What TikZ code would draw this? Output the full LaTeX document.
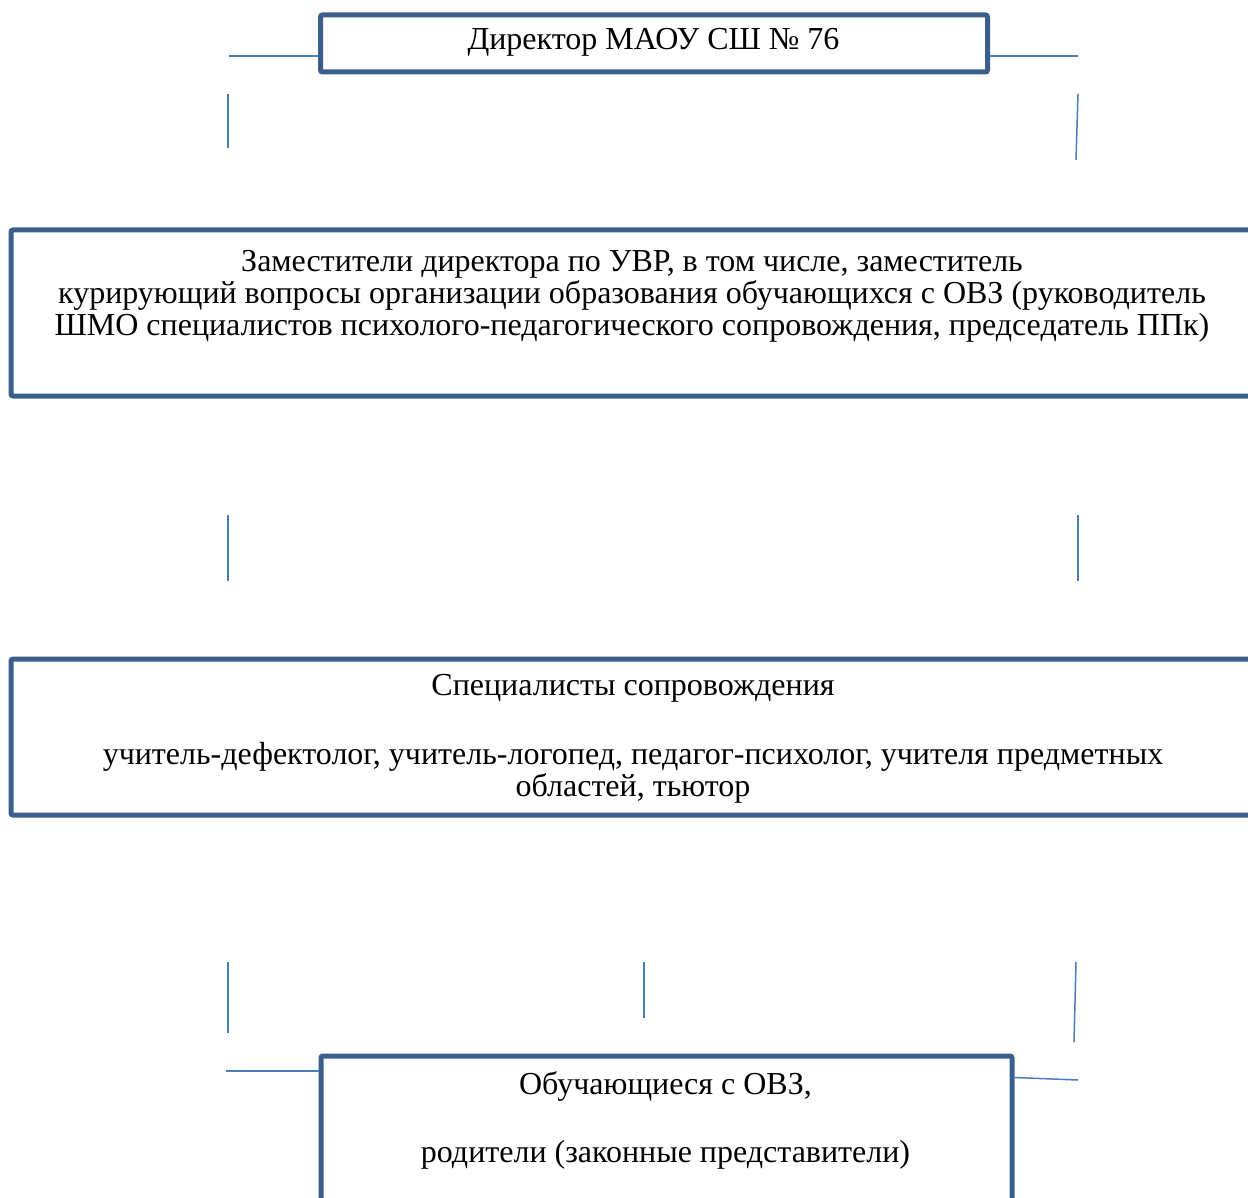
\documentclass[tikz,border=0pt]{standalone}
\usepackage{fontspec}
\setmainfont{Liberation Serif}
\definecolor{boxblue}{RGB}{59,94,140}
\definecolor{linkblue}{RGB}{74,126,187}
\begin{document}
\begin{tikzpicture}[x=0.5pt,y=-0.5pt,
  orgbox/.style={draw=boxblue,line width=2.5pt,rounded corners=1pt,fill=white,inner sep=0pt,anchor=north west},
  txt/.style={font=\fontsize{16}{16}\selectfont,align=center,inner sep=0pt,text=black},
  link/.style={draw=linkblue,line width=0.75pt}]
\useasboundingbox (0,0) rectangle (1248,1198);
\clip (0,0) rectangle (1248,1198);
\fill[white] (0,0) rectangle (1248,1198);
% boxes
\node[orgbox,minimum width=333.5pt,minimum height=28.5pt] (dir) at (318,12.5) {};
\node[orgbox,minimum width=622pt,minimum height=83pt] (dep) at (8.5,227.5) {};
\node[orgbox,minimum width=622pt,minimum height=78pt] (spec) at (8.5,656.5) {};
\node[orgbox,minimum width=345.5pt,minimum height=100pt] (stud) at (318.5,1053.5) {};
% texts
\node[txt] (tdir) at (653.5,42) {Директор МАОУ СШ № 76};
\node[txt] (tdep) at (632,296) {Заместители директора по УВР, в том числе, заместитель\\курирующий вопросы организации образования обучающихся с ОВЗ (руководитель\\ШМО специалистов психолого-педагогического сопровождения, председатель ППк)};
\node[txt] (tspec1) at (633,688) {Специалисты сопровождения};
\node[txt] (tspec2) at (633,773) {учитель-дефектолог, учитель-логопед, педагог-психолог, учителя предметных\\областей, тьютор};
\node[txt] (tstud1) at (665.5,1086) {Обучающиеся с ОВЗ,};
\node[txt] (tstud2) at (665.5,1155) {родители (законные представители)};
% free connector ends
\coordinate (a1) at (229,56);
\coordinate (a2) at (1078,56);
\coordinate (b1) at (228,94); \coordinate (b2) at (228,148);
\coordinate (c1) at (1078,94); \coordinate (c2) at (1076,160);
\coordinate (d1) at (228,515); \coordinate (d2) at (228,581);
\coordinate (e1) at (1078,515); \coordinate (e2) at (1078,581);
\coordinate (f1) at (228,962); \coordinate (f2) at (228,1033);
\coordinate (g1) at (644,962); \coordinate (g2) at (644,1018);
\coordinate (h1) at (1076,962); \coordinate (h2) at (1074,1042);
\coordinate (k1) at (226,1071);
\coordinate (m1) at (1078,1080);
% connectors
\draw[link] (a1) -- (dir.west |- a1);
\draw[link] (dir.east |- a2) -- (a2);
\draw[link] (b1) -- (b2);
\draw[link] (c1) -- (c2);
\draw[link] (d1) -- (d2);
\draw[link] (e1) -- (e2);
\draw[link] (f1) -- (f2);
\draw[link] (g1) -- (g2);
\draw[link] (h1) -- (h2);
\draw[link] (k1) -- (stud.west |- k1);
\draw[link] ([yshift=-12pt]stud.north east) -- (m1);
\end{tikzpicture}
\end{document}
